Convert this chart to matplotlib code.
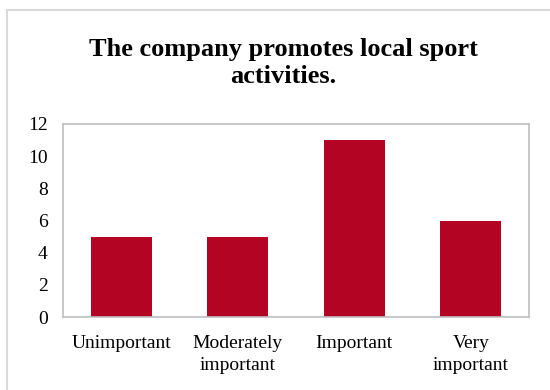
import matplotlib.pyplot as plt
from matplotlib.patches import Rectangle

categories = ['Unimportant', 'Moderately\nimportant', 'Important', 'Very\nimportant']
counts = [5, 5, 11, 6]

plt.rcParams['font.family'] = 'Liberation Serif'

fig = plt.figure(figsize=(5.5, 3.9), dpi=100)
ax = fig.add_axes([63/550, 1 - 317/390, (529 - 63)/550, (317 - 124)/390])

# chart frame (only left/top edges visible)
fig.patches.append(Rectangle((7/550, -0.1), 1.2, 1 - 10/390 + 0.1, transform=fig.transFigure,
                             fill=False, edgecolor='#d9d9d9', linewidth=1.5))

ax.bar(range(len(counts)), counts, width=0.52, color='#b40424')
ax.set_xlim(-0.5, len(counts) - 0.5)
ax.set_ylim(0, 12)
ax.set_yticks(range(0, 13, 2))
ax.set_xticks(range(len(counts)))
ax.set_xticklabels(categories, fontsize=14, linespacing=1.35)
ax.tick_params(axis='y', labelsize=14, length=0, pad=11)
ax.tick_params(axis='x', length=0, pad=13)
for s in ax.spines.values():
    s.set_color('#bfbfbf')
    s.set_linewidth(1.2)

fig.text(283/550, 1 - 63/390, 'The company promotes local sport\nactivities.', ha='center', va='center',
         fontsize=19, fontweight='bold', linespacing=1.2)

fig.savefig('out.png', dpi=100)
